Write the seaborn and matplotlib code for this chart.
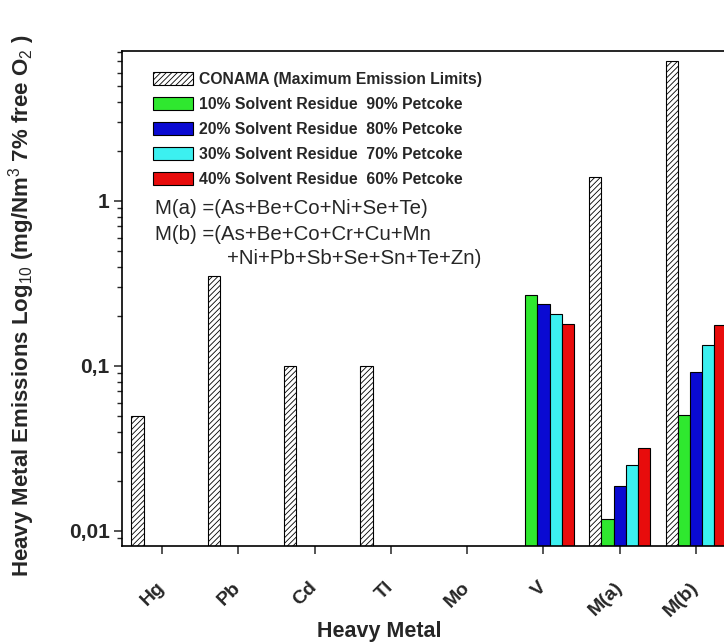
import numpy as np
import pandas as pd
import matplotlib
matplotlib.use("Agg")
import matplotlib.pyplot as plt
import seaborn as sns
from matplotlib.patches import Patch
from matplotlib.ticker import LogLocator, NullFormatter

# ---------------- data ----------------
metals = ["Hg", "Pb", "Cd", "Tl", "Mo", "V", "M(a)", "M(b)"]
series_names = [
    "CONAMA (Maximum Emission Limits)",
    "10% Solvent Residue  90% Petcoke",
    "20% Solvent Residue  80% Petcoke",
    "30% Solvent Residue  70% Petcoke",
    "40% Solvent Residue  60% Petcoke",
]
nan = np.nan
conama = [0.05, 0.35, 0.10, 0.10, nan, nan, 1.40, 7.0]
sr10 = [nan, nan, nan, nan, nan, 0.270, 0.0118, 0.0505]
sr20 = [nan, nan, nan, nan, nan, 0.238, 0.0187, 0.092]
sr30 = [nan, nan, nan, nan, nan, 0.206, 0.0251, 0.134]
sr40 = [nan, nan, nan, nan, nan, 0.180, 0.0319, 0.177]
colors = ["#ffffff", "#2fe82f", "#0a0ad2", "#3cf0f0", "#e80c0c"]
ytick_vals = [0.01, 0.1, 1]
ytick_labels = ["0,01", "0,1", "1"]

rows = []
for name, vals in zip(series_names, [conama, sr10, sr20, sr30, sr40]):
    for m, v in zip(metals, vals):
        rows.append({"metal": m, "series": name, "value": v})
df = pd.DataFrame(rows)

# ---------------- style ----------------
sns.set_style("ticks")
plt.rcParams["font.family"] = ["Liberation Sans", "DejaVu Sans"]
plt.rcParams["mathtext.fontset"] = "custom"
plt.rcParams["mathtext.rm"] = "Liberation Sans"
plt.rcParams["mathtext.it"] = "Liberation Sans:italic"
plt.rcParams["mathtext.bf"] = "Liberation Sans:bold"
plt.rcParams["hatch.linewidth"] = 0.6
plt.rcParams["hatch.color"] = "#333333"

W, H = 724, 643
fig = plt.figure(figsize=(W / 100, H / 100), dpi=100)
ax_l, ax_r, ax_t, ax_b = 122, 736, 51, 546
ax = fig.add_axes([ax_l / W, 1 - ax_b / H, (ax_r - ax_l) / W, (ax_b - ax_t) / H])
ax.set_yscale("log")

sns.barplot(
    data=df, x="metal", y="value", hue="series",
    order=metals, hue_order=series_names,
    palette=dict(zip(series_names, colors)),
    saturation=1, edgecolor="black", linewidth=0.8,
    errorbar=None, legend=False, ax=ax,
)

hatch = "//////"
for bar in ax.containers[0]:
    bar.set_hatch(hatch)
    bar.set_facecolor("white")

ax.set_xlim(-0.524, 7.524)
ax.set_ylim(0.0081, 8.1)

ax.set_yticks(ytick_vals)
ax.set_yticklabels(ytick_labels)
ax.yaxis.set_minor_locator(LogLocator(base=10, subs=np.arange(2, 10)))
ax.yaxis.set_minor_formatter(NullFormatter())

ax.set_xticks(range(len(metals)))
ax.set_xticklabels(metals, rotation=45, ha="right", va="center",
                   rotation_mode="anchor", fontweight="bold", fontsize=14)
for lbl in ax.get_yticklabels():
    lbl.set_fontweight("bold")

ax.tick_params(axis="y", which="major", length=6, width=1.1, labelsize=15, pad=3, direction="out")
ax.tick_params(axis="y", which="minor", length=3.5, width=1.0, direction="out")
ax.tick_params(axis="x", which="major", length=6, width=1.1, pad=22, direction="out")

for s in ax.spines.values():
    s.set_linewidth(1.2)
    s.set_color("black")

ax.set_xlabel("Heavy Metal", fontsize=15.5, fontweight="bold")
ax.xaxis.set_label_coords((379 - ax_l) / (ax_r - ax_l), -(637 - ax_b) / (ax_b - ax_t))
ax.xaxis.label.set_verticalalignment("baseline")

ax.set_ylabel(r"Heavy Metal Emissions Log$_{10}$ (mg/Nm$^{3}$ 7% free O$_{2}$ )",
              fontsize=16, fontweight="bold")
ax.yaxis.set_label_coords(-(123 - 23) / (ax_r - ax_l), (ax_b - 306) / (ax_b - ax_t))
ax.yaxis.label.set_verticalalignment("center")

handles = [Patch(facecolor=c, edgecolor="black", linewidth=0.8,
                 hatch=(hatch if i == 0 else None))
           for i, c in enumerate(colors)]
leg = ax.legend(handles, series_names, loc="upper left",
                bbox_to_anchor=((153 - ax_l) / (ax_r - ax_l), (ax_b - 72) / (ax_b - ax_t)),
                frameon=False, borderpad=0, borderaxespad=0,
                handlelength=2.56, handleheight=0.9, handletextpad=0.4,
                labelspacing=0.64, prop={"weight": "bold", "size": 11.3})

fig.text(155 / W, 1 - 209 / H, "M(a) =(As+Be+Co+Ni+Se+Te)", fontsize=14.7, va="center")
fig.text(155 / W, 1 - 234 / H, "M(b) =(As+Be+Co+Cr+Cu+Mn", fontsize=14.7, va="center")
fig.text(227 / W, 1 - 259 / H, "+Ni+Pb+Sb+Se+Sn+Te+Zn)", fontsize=14.7, va="center")

fig.savefig("out.png", dpi=100)
